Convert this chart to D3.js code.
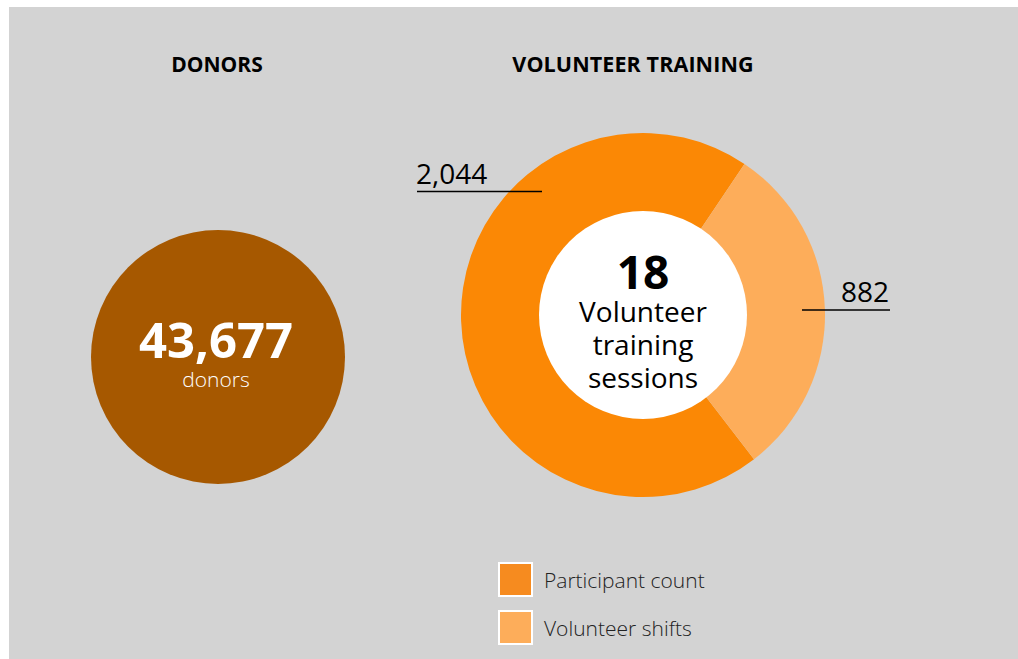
<!DOCTYPE html>
<html>
<head>
<meta charset="utf-8">
<script src="https://cdn.jsdelivr.net/npm/d3@7"></script>
<style>
  html, body { margin: 0; padding: 0; background: #ffffff; }
  svg { display: block; }
  text { font-family: "Open Sans", "Noto Sans", sans-serif; }
</style>
</head>
<body>
<svg id="chart" width="1018" height="659"></svg>
<script>
const titles = ["DONORS", "VOLUNTEER TRAINING"];
const donorValue = 43677;
const donorLabel = "donors";
const categories = ["Participant count", "Volunteer shifts"];
const values = [2044, 882];
const colors = ["#FB8805", "#FDAD5A"];
const legendColors = ["#F68B1F", "#FDAD5A"];
const sessionsValue = 18;
const sessionsLabel = ["Volunteer", "training", "sessions"];

const svg = d3.select("#chart");
svg.append("rect").attr("x", 9).attr("y", 7).attr("width", 1009).attr("height", 652).attr("fill", "#D3D3D3");

// Titles
svg.append("text").attr("x", 217).attr("y", 72).attr("text-anchor", "middle")
  .attr("font-size", 21).attr("font-weight", 700).attr("fill", "#000").text(titles[0]);
svg.append("text").attr("x", 633).attr("y", 72).attr("text-anchor", "middle")
  .attr("font-size", 21.5).attr("font-weight", 700).attr("fill", "#000").attr("letter-spacing", 0.1).text(titles[1]);

// Donor circle
const dg = svg.append("g").attr("transform", "translate(218,357)");
dg.append("circle").attr("r", 127).attr("fill", "#A65800");
dg.append("text").attr("x", -2).attr("y", 1).attr("text-anchor", "middle").attr("font-size", 49).attr("font-weight", 700)
  .attr("fill", "#fff").text(d3.format(",")(donorValue));
dg.append("text").attr("x", -2).attr("y", 30).attr("text-anchor", "middle").attr("font-size", 21).attr("font-weight", 300)
  .attr("fill", "#fff").text(donorLabel);

// Donut
const cx = 643, cy = 315, R = 182, r0 = 0;
const pie = d3.pie().sort(null).startAngle(142.4 * Math.PI / 180).endAngle((142.4 + 360) * Math.PI / 180);
const arcs = pie(values);
const arc = d3.arc().innerRadius(r0).outerRadius(R);
const pg = svg.append("g").attr("transform", `translate(${cx},${cy})`);
pg.selectAll("path").data(arcs).join("path").attr("d", arc).attr("fill", (d, i) => colors[i]);
pg.append("circle").attr("r", 104).attr("fill", "#fff");
pg.append("text").attr("y", -26).attr("text-anchor", "middle").attr("font-size", 46).attr("font-weight", 700)
  .attr("fill", "#000").text(sessionsValue);
sessionsLabel.forEach((t, i) => {
  pg.append("text").attr("y", 7 + i * 33).attr("text-anchor", "middle").attr("font-size", 28)
    .attr("fill", "#000").text(t);
});

// Value labels with underline
const fmt = d3.format(",");
svg.append("text").attr("x", 416).attr("y", 184).attr("font-size", 28).attr("fill", "#000").text(fmt(values[0]));
svg.append("line").attr("x1", 417).attr("x2", 542).attr("y1", 191.5).attr("y2", 191.5).attr("stroke", "#000").attr("stroke-width", 1.5);
svg.append("text").attr("x", 889).attr("y", 302).attr("text-anchor", "end").attr("font-size", 28).attr("fill", "#000").text(fmt(values[1]));
svg.append("line").attr("x1", 802).attr("x2", 890).attr("y1", 310).attr("y2", 310).attr("stroke", "#000").attr("stroke-width", 1.5);

// Legend
const lg = svg.append("g");
categories.forEach((c, i) => {
  const y = 563 + i * 48;
  lg.append("rect").attr("x", 499).attr("y", y).attr("width", 33).attr("height", 33)
    .attr("fill", legendColors[i]).attr("stroke", "#fff").attr("stroke-width", 2);
  lg.append("text").attr("x", 544).attr("y", y + 25).attr("font-size", 21).attr("font-weight", 300)
    .attr("fill", "#222").text(c);
});
</script>
</body>
</html>
